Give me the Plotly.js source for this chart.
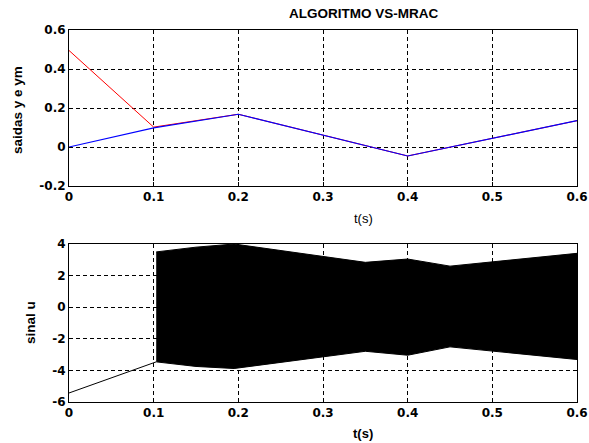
<!DOCTYPE html>
<html>
<head>
<meta charset="utf-8">
<script src="https://cdn.plot.ly/plotly-3.0.1.min.js"></script>
<style>html,body{margin:0;padding:0;background:#fff;}#chart{width:589px;height:443px;}</style>
</head>
<body>
<div id="chart"></div>
<script>
// top plot: outputs y (blue) and ym (red)
var tTop = [0, 0.1, 0.2, 0.4, 0.6];
var yPlant = [0, 0.098, 0.168, -0.046, 0.135];
var tRef = [0, 0.1, 0.2, 0.4, 0.6];
var ymRef = [0.495, 0.102, 0.168, -0.046, 0.135];

// bottom plot: control signal u
var tU = [0, 0.103];
var uLine = [-5.43, -3.46];
var tEnv = [0.103, 0.15, 0.195, 0.35, 0.4, 0.45, 0.6];
var uUpper = [3.5, 3.8, 4.0, 2.84, 3.05, 2.6, 3.41];
var uLower = [-3.46, -3.75, -3.88, -2.79, -3.04, -2.51, -3.31];

var xTicks = [0, 0.1, 0.2, 0.3, 0.4, 0.5, 0.6];
var xTickText = ['0', '0.1', '0.2', '0.3', '0.4', '0.5', '0.6'];
var yTopTicks = [-0.2, 0, 0.2, 0.4, 0.6];
var yTopText = ['-0.2', '0', '0.2', '0.4', '0.6'];
var yBotTicks = [-6, -4, -2, 0, 2, 4];
var yBotText = ['-6', '-4', '-2', '0', '2', '4'];

var bandX = tEnv.concat(tEnv.slice().reverse());
var bandY = uUpper.concat(uLower.slice().reverse());

var traces = [
  {x: tRef, y: ymRef, mode: 'lines', line: {color: '#ff0000', width: 1}, xaxis: 'x', yaxis: 'y'},
  {x: tTop, y: yPlant, mode: 'lines', line: {color: '#0000ff', width: 1.2}, xaxis: 'x', yaxis: 'y'},
  {x: tU, y: uLine, mode: 'lines', line: {color: '#000', width: 1}, xaxis: 'x2', yaxis: 'y2'},
  {x: bandX, y: bandY, mode: 'lines', fill: 'toself', fillcolor: '#000', line: {color: '#000', width: 1}, xaxis: 'x2', yaxis: 'y2'}
];

var AR = 'Liberation Sans, Arial, sans-serif';
var tickFont = {family: 'DejaVu Sans, sans-serif', size: 12, color: '#000', weight: 'bold'};
function xa(anchor) {
  return {
    domain: [0, 1], anchor: anchor, range: [0, 0.6],
    tickvals: xTicks, ticktext: xTickText, tickfont: tickFont,
    ticks: 'inside', ticklen: 4, tickcolor: '#000',
    showgrid: true, gridcolor: '#000', griddash: '4px,3px', gridwidth: 1,
    showline: true, linecolor: '#000', linewidth: 1, mirror: true, zeroline: false
  };
}
function ya(domain, anchor, range, tv, tt) {
  return {
    domain: domain, anchor: anchor, range: range,
    tickvals: tv, ticktext: tt, tickfont: tickFont,
    ticks: 'inside', ticklen: 4, tickcolor: '#000',
    showgrid: true, gridcolor: '#000', griddash: '4px,3px', gridwidth: 1,
    showline: true, linecolor: '#000', linewidth: 1, mirror: true, zeroline: false
  };
}

var W = 589 - 69 - 12, H = 443 - 30 - 41;
function px(x) { return (x - 69) / W; }
function py(y) { return (402 - y) / H; }

var layout = {
  width: 589, height: 443,
  margin: {l: 69, r: 12, t: 30, b: 41},
  paper_bgcolor: '#fff', plot_bgcolor: '#fff',
  showlegend: false,
  xaxis: xa('y'),
  yaxis: ya([0.5806, 1], 'x', [-0.2, 0.6], yTopTicks, yTopText),
  xaxis2: xa('y2'),
  yaxis2: ya([0, 0.4247], 'x2', [-6, 4], yBotTicks, yBotText),
  annotations: [
    {text: '<b>ALGORITMO VS-MRAC</b>', xref: 'paper', yref: 'paper', x: px(363), y: py(13),
     xanchor: 'center', yanchor: 'middle', showarrow: false, font: {family: AR, size: 13.5, color: '#000'}},
    {text: 't(s)', xref: 'paper', yref: 'paper', x: px(363), y: py(218),
     xanchor: 'center', yanchor: 'middle', showarrow: false, font: {family: AR, size: 13, color: '#000'}},
    {text: '<b>t(s)</b>', xref: 'paper', yref: 'paper', x: px(363), y: py(433),
     xanchor: 'center', yanchor: 'middle', showarrow: false, font: {family: AR, size: 13, color: '#000'}},
    {text: '<b>saidas y e ym</b>', xref: 'paper', yref: 'paper', x: px(17), y: py(110), textangle: -90,
     xanchor: 'center', yanchor: 'middle', showarrow: false, font: {family: AR, size: 13.5, color: '#000'}},
    {text: '<b>sinal u</b>', xref: 'paper', yref: 'paper', x: px(30), y: py(323), textangle: -90,
     xanchor: 'center', yanchor: 'middle', showarrow: false, font: {family: AR, size: 13.5, color: '#000'}}
  ]
};

Plotly.newPlot('chart', traces, layout, {staticPlot: true, displayModeBar: false});
</script>
</body>
</html>
